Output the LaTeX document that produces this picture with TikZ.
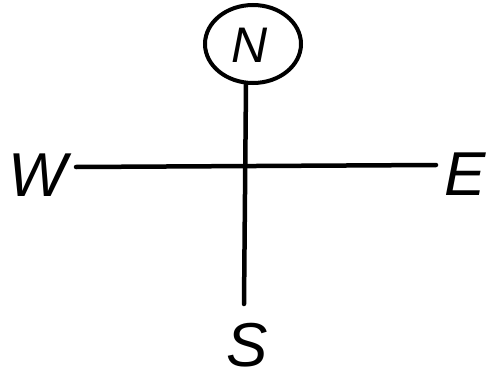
\documentclass[tikz,border=0pt]{standalone}
\usepackage{fontspec}
\setmainfont{Liberation Sans}
\usetikzlibrary{shapes.geometric}
\begin{document}
\begin{tikzpicture}[x=1pt,y=-1pt,
  lbl/.style={font=\fontsize{62}{62}\selectfont\itshape, inner sep=0pt},
  stroke/.style={line width=4.5pt, line cap=round}]
\useasboundingbox (0,0) rectangle (487,380);
\node[ellipse, draw, line width=4pt, minimum width=96pt, minimum height=78pt, inner sep=0pt] (n) at (253,44) {};
\node[lbl, font=\fontsize{50}{50}\selectfont\itshape] (nl) at (250,45) {N};
\coordinate (top) at (246,84);
\coordinate (bot) at (244,304);
\coordinate (left) at (76,167);
\coordinate (right) at (436,165);
\node[lbl] (w) at (38,175) {W};
\node[lbl] (e) at (465,174) {E};
\node[lbl, text depth=0pt] (s) at (247,345) {S};
\draw[stroke] (top) -- (bot);
\draw[stroke] (left) -- (right);
\end{tikzpicture}
\end{document}
